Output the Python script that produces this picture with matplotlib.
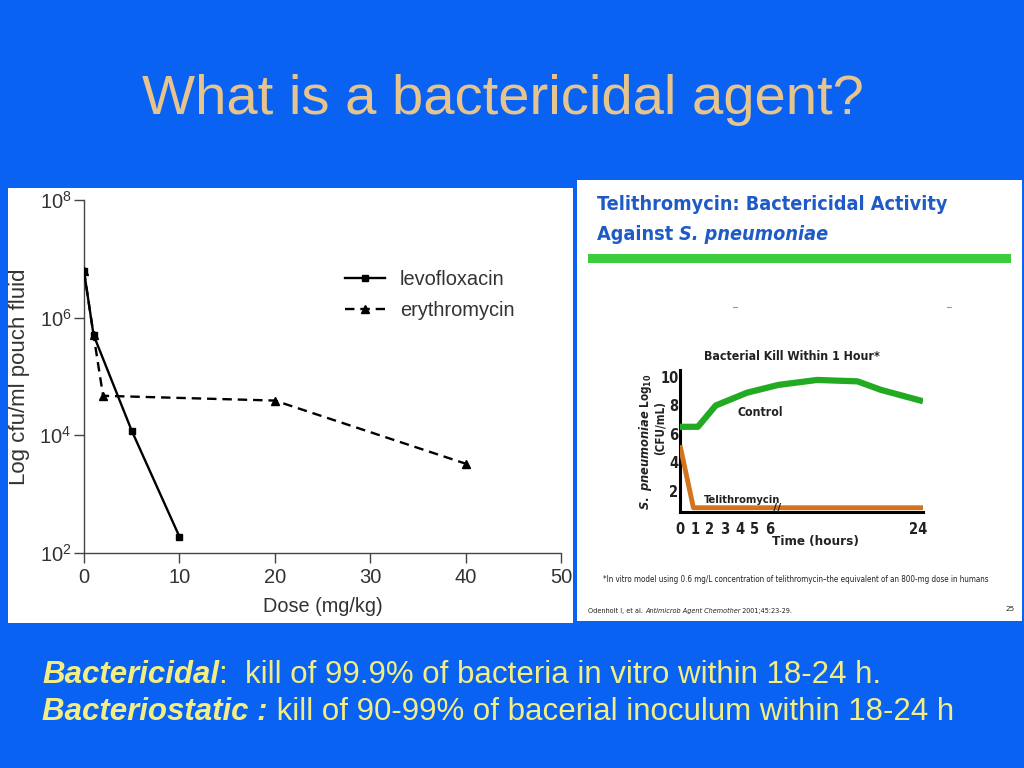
import numpy as np
import matplotlib
matplotlib.use("Agg")
import matplotlib.pyplot as plt
from matplotlib.patches import Rectangle
from matplotlib.text import Annotation
from matplotlib.lines import Line2D
from matplotlib.ticker import FixedLocator, FixedFormatter, NullLocator
from matplotlib.transforms import Bbox, TransformedBbox

# ---------------- data ----------------
dose_levo = [0, 1, 5, 10]
cfu_levo = [6.2e6, 5.1e5, 1.2e4, 1.9e2]
dose_ery = [0, 1, 2, 20, 40]
cfu_ery = [6.2e6, 5.1e5, 4.7e4, 3.9e4, 3.3e3]
left_xticks = [0, 10, 20, 30, 40, 50]
left_yticks = [1e2, 1e4, 1e6, 1e8]
left_ytick_labels = [r"$\mathregular{10^{2}}$", r"$\mathregular{10^{4}}$",
                     r"$\mathregular{10^{6}}$", r"$\mathregular{10^{8}}$"]

hours_control = [0, 1.2, 2.4, 4.5, 6.7, 11.5, 16.5, 19.4, 24.6]
log_control = [6.5, 6.5, 8.0, 8.9, 9.45, 9.8, 9.7, 9.1, 8.3]
hours_teli = [0, 0.9, 24.6]
log_teli = [5.2, 0.8, 0.8]
right_xticks = [0, 1, 2, 3, 4, 5, 6, 24]
right_yticks = [2, 4, 6, 8, 10]

# ---------------- style ----------------
plt.rcParams['mathtext.fontset'] = 'custom'
plt.rcParams['mathtext.rm'] = 'DejaVu Sans:bold'
plt.rcParams['mathtext.it'] = 'DejaVu Sans:italic:bold'
plt.rcParams['mathtext.bf'] = 'DejaVu Sans:bold'

BG = '#0A62F2'
W, H = 1024, 768


def fx(x):
    return x / W


def fy(y):
    return 1 - y / H


fig = plt.figure(figsize=(10.24, 7.68), dpi=100, facecolor=BG)

# slide title
fig.text(fx(503), fy(100), "What is a bactericidal agent?", ha='center', va='center',
         fontsize=40.5, family='Liberation Sans', color='#E6C48E')

# white panels
fig.add_artist(Rectangle((fx(8), fy(623)), 565 / W, 435 / H, transform=fig.transFigure,
                         facecolor='white', edgecolor='none', zorder=0))
fig.add_artist(Rectangle((fx(577), fy(621)), 445 / W, 441 / H, transform=fig.transFigure,
                         facecolor='white', edgecolor='none', zorder=0))

# ---------------- left chart ----------------
GREY = '#333333'
ax1 = fig.add_axes([fx(84), fy(553), (561 - 84) / W, (553 - 200) / H])
ax1.set_facecolor('none')
ax1.plot(dose_levo, cfu_levo, color='black', lw=1.7, marker='s', ms=4.5,
         label='levofloxacin', zorder=3)
ax1.plot(dose_ery, cfu_ery, color='black', lw=1.7, ls=(0, (4, 2.5)), marker='^', ms=6,
         label='erythromycin', zorder=3)
ax1.set_yscale('log')
ax1.set_xlim(0, 50)
ax1.set_ylim(1e2, 1e8)
ax1.xaxis.set_major_locator(FixedLocator(left_xticks))
ax1.yaxis.set_major_locator(FixedLocator(left_yticks))
ax1.yaxis.set_major_formatter(FixedFormatter(left_ytick_labels))
ax1.yaxis.set_minor_locator(NullLocator())
for s in ['top', 'right']:
    ax1.spines[s].set_visible(False)
for s in ['left', 'bottom']:
    ax1.spines[s].set_color('#444444')
    ax1.spines[s].set_linewidth(1.0)
ax1.tick_params(direction='out', length=7, width=1.0, color='#444444',
                labelsize=14.5, labelcolor=GREY)
ax1.tick_params(axis='x', pad=4)
ax1.tick_params(axis='y', pad=2)
for lbl in ax1.get_xticklabels() + ax1.get_yticklabels():
    lbl.set_family('Liberation Sans')
ax1.set_xlabel('Dose (mg/kg)', fontsize=14.3, family='Liberation Sans', color=GREY, labelpad=7)
ax1.set_ylabel('Log cfu/ml pouch fluid', fontsize=16, family='Liberation Sans', color=GREY,
               labelpad=7)
leg = ax1.legend(loc='upper left', bbox_to_anchor=(fx(345), fy(270)), bbox_transform=fig.transFigure,
                 frameon=False, borderpad=0, borderaxespad=0, handlelength=2.0, handletextpad=0.75,
                 labelspacing=0.62, prop={'family': 'Liberation Sans', 'size': 14.4})
for t in leg.get_texts():
    t.set_color(GREY)
# clip tick labels to white panel
clipbox = TransformedBbox(Bbox([[fx(8), fy(623)], [fx(573), fy(188)]]), fig.transFigure)
for lbl in ax1.get_xticklabels():
    lbl.set_clip_box(clipbox)
    lbl.set_clip_on(True)

# ---------------- right panel ----------------
HDR = '#1E5BC6'
hdr_kw = dict(fontsize=14.2, weight='bold', family='DejaVu Sans', fontstretch='condensed', color=HDR)
fig.text(fx(597), fy(204), "Telithromycin: Bactericidal Activity", ha='left', va='center', **hdr_kw)
t1 = fig.text(fx(597), fy(234), "Against ", ha='left', va='center', **hdr_kw)
a1 = Annotation("S. pneumoniae", xy=(1, 0), xycoords=t1, ha='left', va='bottom',
                style='italic', **hdr_kw)
fig.add_artist(a1)
fig.add_artist(Rectangle((fx(588), fy(263)), (1011 - 588) / W, 9 / H, transform=fig.transFigure,
                         facecolor='#3DCC3D', edgecolor='none'))
for xm in (735, 949):
    fig.add_artist(Line2D([fx(xm - 2), fx(xm + 2)], [fy(307), fy(307)], transform=fig.transFigure,
                          color='#999999', lw=0.8))

BRK, K = 6.5, 0.543


def fwd(h):
    h = np.asarray(h, dtype=float)
    return np.where(h <= BRK, h, BRK + (h - BRK) * K)


def inv(p):
    p = np.asarray(p, dtype=float)
    return np.where(p <= BRK, p, BRK + (p - BRK) / K)


ax2 = fig.add_axes([fx(680), fy(512), (923 - 680) / W, (512 - 370) / H])
ax2.set_facecolor('none')
ax2.set_xscale('function', functions=(fwd, inv))
ax2.plot(hours_control, log_control, color='#22AA22', lw=4.5, solid_capstyle='butt', zorder=3)
ax2.plot(hours_teli, log_teli, color='#D2731E', lw=3.5, solid_capstyle='butt', zorder=3)
ax2.set_xlim(0, 24.6)
ax2.set_ylim(0.5, 10.5)
ax2.xaxis.set_major_locator(FixedLocator(right_xticks))
ax2.xaxis.set_major_formatter(FixedFormatter([str(v) for v in right_xticks]))
ax2.xaxis.set_minor_locator(NullLocator())
ax2.yaxis.set_major_locator(FixedLocator(right_yticks))
ax2.yaxis.set_major_formatter(FixedFormatter([str(v) for v in right_yticks]))
for s in ['top', 'right']:
    ax2.spines[s].set_visible(False)
for s in ['left', 'bottom']:
    ax2.spines[s].set_color('black')
    ax2.spines[s].set_linewidth(2.2)
ax2.tick_params(length=0, labelsize=10.5)
ax2.tick_params(axis='x', pad=7)
ax2.tick_params(axis='y', pad=1)
for lbl in ax2.get_xticklabels() + ax2.get_yticklabels():
    lbl.set_weight('bold')
    lbl.set_family('DejaVu Sans')
    lbl.set_fontstretch('condensed')
    lbl.set_color('#222222')
ax2.text(6.6, 0.75, '//', ha='center', va='center', fontsize=8, weight='bold', color='#222222',
         zorder=4)

small_kw = dict(weight='bold', family='DejaVu Sans', fontstretch='condensed', color='#222222')
fig.text(fx(792), fy(356), "Bacterial Kill Within 1 Hour*", ha='center', va='center', fontsize=8.9,
         **small_kw)
fig.text(fx(760), fy(413), "Control", ha='center', va='center', fontsize=8.8, **small_kw)
fig.text(fx(742), fy(500), "Telithromycin", ha='center', va='center', fontsize=8.0, **small_kw)
fig.text(fx(815), fy(542), "Time (hours)", ha='center', va='center', fontsize=9.6, **small_kw)
fig.text(fx(645), fy(442), r"$\it{S.\ pneumoniae}$ Log$_{10}$", ha='center', va='center',
         rotation=90, fontsize=8.3, **small_kw)
fig.text(fx(660), fy(428), "(CFU/mL)", ha='center', va='center', rotation=90, fontsize=8.3,
         **small_kw)

fig.text(fx(603), fy(579),
         "*In vitro model using 0.6 mg/L concentration of telithromycin\u2013the equivalent of an 800-mg dose in humans",
         ha='left', va='center', fontsize=5.75, family='DejaVu Sans', fontstretch='condensed',
         color='#222222')
r1 = fig.text(fx(588), fy(611), "Odenholt I, et al. ", ha='left', va='center', fontsize=5.2,
              family='DejaVu Sans', fontstretch='condensed', color='#222222')
r2 = Annotation("Antimicrob Agent Chemother", xy=(1, 0), xycoords=r1, ha='left', va='bottom',
                fontsize=5.2, style='italic', family='DejaVu Sans', fontstretch='condensed',
                color='#222222')
fig.add_artist(r2)
r3 = Annotation(" 2001;45:23-29.", xy=(1, 0), xycoords=r2, ha='left', va='bottom', fontsize=5.2,
                family='DejaVu Sans', fontstretch='condensed', color='#222222')
fig.add_artist(r3)
fig.text(fx(1010), fy(609), "25", ha='center', va='center', fontsize=5.2, family='DejaVu Sans',
         color='#222222')

# ---------------- bottom text ----------------
YEL = '#F2EE84'
bk = dict(fontsize=22.5, family='Liberation Sans', color=YEL)
b1 = fig.text(fx(42), fy(675), "Bactericidal", ha='left', va='center', weight='bold', style='italic', **bk)
b2 = Annotation(":  kill of 99.9% of bacteria in vitro within 18-24 h.", xy=(1, 0), xycoords=b1,
                ha='left', va='bottom', **bk)
fig.add_artist(b2)
c1 = fig.text(fx(42), fy(712), "Bacteriostatic :", ha='left', va='center', weight='bold',
              style='italic', **bk)
c2 = Annotation(" kill of 90-99% of bacerial inoculum within 18-24 h", xy=(1, 0), xycoords=c1,
                ha='left', va='bottom', **bk)
fig.add_artist(c2)

fig.savefig('out.png', dpi=100, facecolor=BG)
